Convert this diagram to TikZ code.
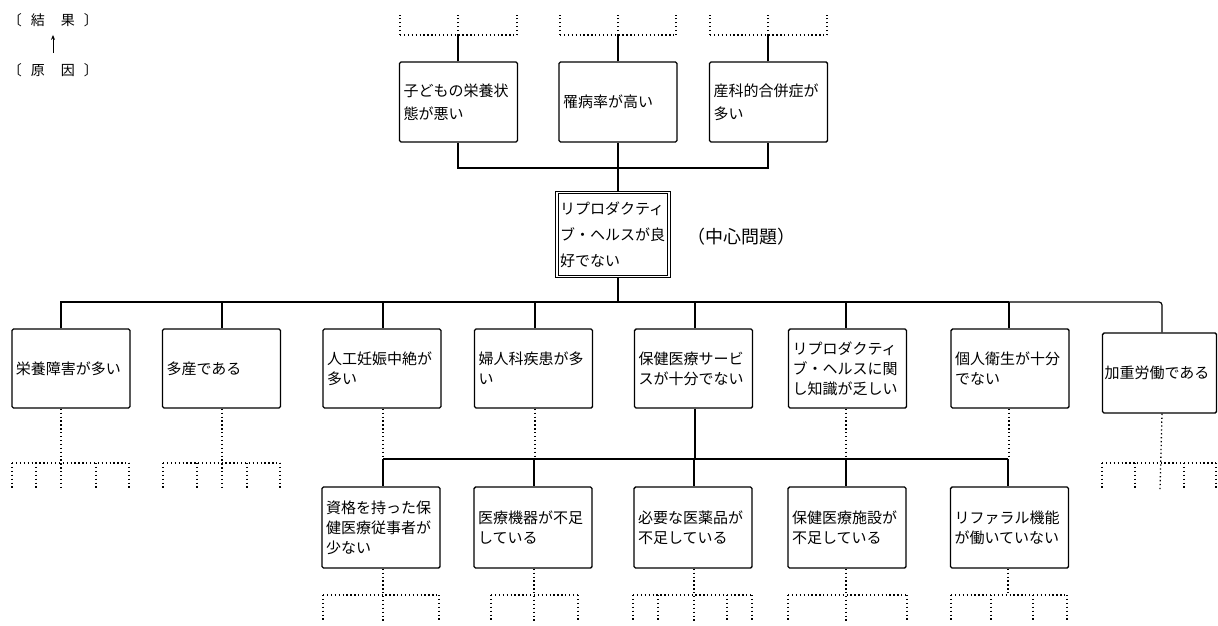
\documentclass[tikz,border=0pt]{standalone}
\usepackage{fontspec}
\setmainfont{Noto Sans CJK JP}
\usetikzlibrary{arrows.meta,calc}
\tikzset{
  box/.style={draw=black, line width=1.4pt, rounded corners=1.5pt, minimum height=80pt,
    text width=110pt, inner xsep=4pt, align=left, font=\fontsize{15}{20}\selectfont},
  topbox/.style={box, font=\fontsize{15}{23}\selectfont},
  cbox/.style={draw=black, line width=0.8pt, double=white, double distance=1.6pt,
    minimum height=84pt, text width=106pt, inner xsep=3pt, align=left,
    font=\fontsize{15}{26}\selectfont},
  conn/.style={line width=1.2pt},
  dotl/.style={line width=1.3pt, dash pattern=on 1.3pt off 2.6pt},
  legend/.style={font=\fontsize{14}{14}\selectfont, inner sep=2pt},
}
\begin{document}
\begin{tikzpicture}[x=1pt,y=-1pt]
\fill[white] (0,0) rectangle (1218,626);
\useasboundingbox (0,0) rectangle (1218,626);

% legend
\node[legend] (eff) at (53,20) {〔\hspace{9pt}結\hspace{16pt}果\hspace{9pt}〕};
\node[legend] (cau) at (53,70) {〔\hspace{9pt}原\hspace{16pt}因\hspace{9pt}〕};
\draw[line width=1pt, -{Stealth[length=5pt,width=4pt]}, shorten <=8pt, shorten >=6pt] (cau.north) -- (eff.south);

% top row
\node[topbox] (t1) at (458.5,102) {子どもの栄養状\\態が悪い};
\node[topbox] (t2) at (618,102) {罹病率が高い};
\node[topbox] (t3) at (768.5,102) {産科的合併症が\\多い};

% centre
\node[cbox] (c) at (613,234.5) {リプロダクティ\\ブ・ヘルスが良\\好でない};
\node[anchor=west, font=\fontsize{18}{18}\selectfont] (lab) at (684,237) {（中心問題）};

% middle row
\node[box, minimum height=79pt] (m1) at (71,368.5) {栄養障害が多い};
\node[box, minimum height=79pt] (m2) at (221.5,368.5) {多産である};
\node[box, minimum height=79pt] (m3) at (382,368.5) {人工妊娠中絶が\\多い};
\node[box, minimum height=79pt] (m4) at (533.5,368.5) {婦人科疾患が多\\い};
\node[box, minimum height=79pt] (m5) at (693.5,368.5) {保健医療サービ\\スが十分でない};
\node[box, minimum height=79pt] (m6) at (847.5,368.5) {リプロダクティ\\ブ・ヘルスに関\\し知識が乏しい};
\node[box, minimum height=79pt] (m7) at (1010,368.5) {個人衛生が十分\\でない};
\node[box, minimum height=80pt, inner xsep=2pt] (m8) at (1159.5,373) {加重労働である};

% bottom row
\node[box, minimum height=81pt] (b1) at (381,527.5) {資格を持った保\\健医療従事者が\\少ない};
\node[box, minimum height=81pt] (b2) at (533,527.5) {医療機器が不足\\している};
\node[box, minimum height=81pt] (b3) at (693,527.5) {必要な医薬品が\\不足している};
\node[box, minimum height=81pt] (b4) at (847,527.5) {保健医療施設が\\不足している};
\node[box, minimum height=81pt] (b5) at (1009.5,527.5) {リファラル機能\\が働いていない};

% ---- top stubs
\coordinate (s1) at (458,35);
\coordinate (s2) at (618,35);
\coordinate (s3) at (768,35);
\draw[conn] (t1.north -| s1) -- (s1);
\draw[conn] (t2.north -| s2) -- (s2);
\draw[conn] (t3.north -| s3) -- (s3);
\foreach \a/\b/\cc in {400/458/517, 560/618/676, 710/768/827}{
  \draw[dotl] (\a,35) -- (\cc,35);
  \foreach \x in {\a,\b,\cc} \draw[dotl] (\x,35) -- (\x,15);
}

% ---- top row to centre
\coordinate (tb) at (618,168);
\draw[conn] (t1.south -| s1) -- (s1 |- tb) -- (s3 |- tb) -- (t3.south -| s3);
\draw[conn] (t2.south) -- (t2.south |- c.north);

% ---- centre to middle row
\coordinate (kc) at (618,302);
\coordinate (k1) at (61,302);
\coordinate (k2) at (222,302);
\coordinate (k3) at (383,302);
\coordinate (k4) at (535,302);
\coordinate (k5) at (695,302);
\coordinate (k6) at (846,302);
\coordinate (k7) at (1009,302);
\coordinate (k8) at (1162,302);
\draw[conn] (c.south -| kc) -- (kc);
\draw[conn] (k1 |- m1.north) -- (k1) -- (k7);
\draw[conn, rounded corners=3pt] (k7) -- (k8) -- (k8 |- m8.north);
\foreach \i in {2,...,7} \draw[conn] (k\i) -- (k\i |- m\i.north);

% ---- middle stubs
\draw[dotl] (m1.south -| k1) -- (61,490);
\draw[dotl] (12,463) -- (129,463);
\foreach \x in {12,36,96,129} \draw[dotl] (\x,463) -- (\x,490);
\draw[dotl] (m2.south -| k2) -- (222,490);
\draw[dotl] (163,463) -- (280,463);
\foreach \x in {163,197,247,280} \draw[dotl] (\x,463) -- (\x,490);
\draw[dotl] (m8.south -| k8) -- (1160,490);
\draw[dotl] (1102,463) -- (1216,463);
\foreach \x in {1102,1135,1184,1216} \draw[dotl] (\x,463) -- (\x,490);

% ---- lower bar
\coordinate (bb1) at (383,459);
\coordinate (bb2) at (534,459);
\coordinate (bb3) at (694,459);
\coordinate (bb4) at (846,459);
\coordinate (bb5) at (1008,459);
\draw[conn] (bb1) -- (bb5);
\draw[dotl] (m3.south -| k3) -- (k3 |- bb1);
\draw[dotl] (m4.south -| k4) -- (k4 |- bb1);
\draw[conn] (m5.south -| k5) -- (k5 |- bb1);
\draw[dotl] (m6.south -| k6) -- (k6 |- bb1);
\draw[dotl] (m7.south -| k7) -- (k7 |- bb1);
\foreach \i in {1,...,5} \draw[conn] (bb\i) -- (bb\i |- b\i.north);

% ---- bottom stubs
\draw[dotl] (b1.south -| bb1) -- (383,622);
\draw[dotl] (323,595) -- (439,595);
\foreach \x in {323,439} \draw[dotl] (\x,595) -- (\x,622);
\draw[dotl] (b2.south -| bb2) -- (534,622);
\draw[dotl] (491,595) -- (578,595);
\foreach \x in {491,578} \draw[dotl] (\x,595) -- (\x,622);
\draw[dotl] (b3.south -| bb3) -- (694,622);
\draw[dotl] (633,595) -- (752,595);
\foreach \x in {633,658,727,752} \draw[dotl] (\x,595) -- (\x,622);
\draw[dotl] (b4.south -| bb4) -- (846,622);
\draw[dotl] (788,595) -- (907,595);
\foreach \x in {788,907} \draw[dotl] (\x,595) -- (\x,622);
\draw[dotl] (b5.south -| bb5) -- (1008,595);
\draw[dotl] (951,595) -- (1067,595);
\foreach \x in {951,991,1033,1067} \draw[dotl] (\x,595) -- (\x,622);
\end{tikzpicture}
\end{document}
